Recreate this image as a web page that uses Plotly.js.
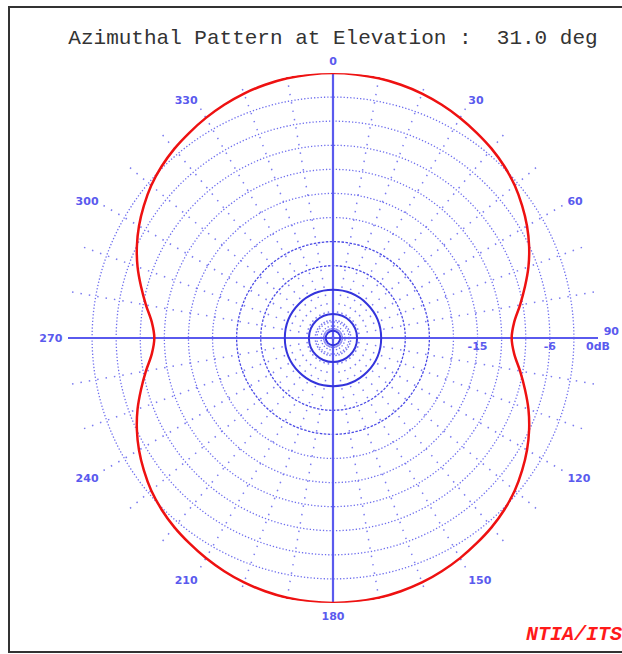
<!DOCTYPE html>
<html>
<head>
<meta charset="utf-8">
<script src="https://cdn.plot.ly/plotly-3.0.1.min.js"></script>
<style>html,body{margin:0;padding:0;background:#fff;overflow:hidden}</style>
</head>
<body>
<div id="chart" style="width:622px;height:654px"></div>
<script>
// Azimuth angles (deg, clockwise from north)
const azimuth = [0,5,10,15,20,25,30,35,40,45,50,55,60,65,70,75,80,85,90,
  95,100,105,110,115,120,125,130,135,140,145,150,155,160,165,170,175,
  180,185,190,195,200,205,210,215,220,225,230,235,240,245,250,255,260,265,270,
  275,280,285,290,295,300,305,310,315,320,325,330,335,340,345,350,355,360];
// Relative gain (dB)
const gainDb = [0,-0.05,-0.15,-0.35,-0.6,-0.95,-1.35,-1.8,-2.25,-2.8,-3.45,-4.25,-5.1,-6.05,-7.1,-8.25,-9.35,-10.35,-10.75,
  -10.35,-9.35,-8.25,-7.1,-6.05,-5.1,-4.25,-3.45,-2.8,-2.25,-1.8,-1.35,-0.95,-0.6,-0.35,-0.15,-0.05,
  0,-0.05,-0.15,-0.35,-0.6,-0.95,-1.35,-1.8,-2.25,-2.8,-3.45,-4.25,-5.1,-6.05,-7.1,-8.25,-9.35,-10.35,-10.75,
  -10.35,-9.35,-8.25,-7.1,-6.05,-5.1,-4.25,-3.45,-2.8,-2.25,-1.8,-1.35,-0.95,-0.6,-0.35,-0.15,-0.05,0];
// Tick labels
const angleTicks = [0,30,60,90,120,150,180,210,240,270,300,330];
const angleTickText = ['0','30','60','90<br> ','120','150','180','210','240','270','300','330'];
const radialLabelVals = [-15,-6,0];
const radialLabelText = ['-15','-6','0dB'];
// Ring levels (dB)
const dottedRings = [-31.5,-31,-18,-15,-12,-9,-6,-3,0];
const dashedRings = [-24,-21];
const solidRings = [-32.1,-30,-27];
const spokeAngles = [0,10,20,30,40,50,60,70,80,90,100,110,120,130,140,150,160,170,180,190,200,210,220,230,240,250,260,270,280,290,300,310,320,330,340,350];
const crossAngles = [0,90,180,270];
const rRange = [-33, 0.001];

const W = 622, H = 654, CX = 333, CY = 338, R = 265;
const dom = {x:[(CX-R)/W,(CX+R)/W], y:[1-(CY+R)/H, 1-(CY-R)/H]};
const blue = '#5a5aee';

function base(){
  return {
    domain: dom, bgcolor:'rgba(0,0,0,0)', hole:0,
    angularaxis:{rotation:90, direction:'clockwise', showline:false, showticklabels:false, ticks:'', showgrid:false},
    radialaxis:{range:rRange, showline:false, showticklabels:false, ticks:'', showgrid:false}
  };
}
const p1 = base();
p1.bgcolor = '#ffffff';
p1.angularaxis.showgrid = true; p1.angularaxis.tickmode='array'; p1.angularaxis.tickvals = spokeAngles;
p1.angularaxis.gridcolor = '#7c7cf0'; p1.angularaxis.griddash = '1.5px,7px'; p1.angularaxis.gridwidth = 1.5;
p1.radialaxis.showgrid = true; p1.radialaxis.tickmode='array'; p1.radialaxis.tickvals = dottedRings;
p1.radialaxis.gridcolor = '#6e6eee'; p1.radialaxis.griddash = '1.3px,2px'; p1.radialaxis.gridwidth = 1.3;

const p2 = base();
p2.radialaxis.showgrid = true; p2.radialaxis.tickmode='array'; p2.radialaxis.tickvals = dashedRings;
p2.radialaxis.gridcolor = '#4a4ae6'; p2.radialaxis.griddash = '2.5px,1.5px'; p2.radialaxis.gridwidth = 1.3;

const p3 = base();
p3.radialaxis.showgrid = true; p3.radialaxis.tickmode='array'; p3.radialaxis.tickvals = solidRings;
p3.radialaxis.gridcolor = '#3434dc'; p3.radialaxis.gridwidth = 2;
p3.angularaxis.showgrid = true; p3.angularaxis.tickmode='array'; p3.angularaxis.tickvals = crossAngles;
p3.angularaxis.gridcolor = blue; p3.angularaxis.gridwidth = 2.2;

const lblFont = {family:'DejaVu Sans, Verdana, sans-serif', size:11, color:blue, weight:'bold'};
const p4 = base();
p4.angularaxis.showticklabels = true; p4.angularaxis.tickmode='array';
p4.angularaxis.tickvals = angleTicks; p4.angularaxis.ticktext = angleTickText;
p4.angularaxis.ticks = 'outside'; p4.angularaxis.ticklen = 3; p4.angularaxis.tickcolor = 'rgba(0,0,0,0)';
p4.angularaxis.tickfont = lblFont;
p4.radialaxis.showticklabels = true; p4.radialaxis.tickmode='array';
p4.radialaxis.tickvals = radialLabelVals; p4.radialaxis.ticktext = radialLabelText;
p4.radialaxis.angle = 0; p4.radialaxis.side = 'clockwise'; p4.radialaxis.tickfont = lblFont;

// placeholder traces so every grid layer is drawn
function holder(sp){
  return {type:'scatterpolar', subplot:sp, mode:'markers', r:[rRange[0]], theta:[0],
    marker:{size:1, opacity:0}, hoverinfo:'skip', showlegend:false};
}
const trace = {
  type:'scatterpolar', subplot:'polar4', mode:'lines',
  r: gainDb, theta: azimuth,
  line:{color:'#ee1111', width:2.5, shape:'spline', smoothing:1},
  hoverinfo:'skip'
};

const layout = {
  width:W, height:H, margin:{l:0,r:0,t:0,b:0},
  paper_bgcolor:'#ffffff', showlegend:false,
  polar:p1, polar2:p2, polar3:p3, polar4:p4,
  title:{text:'Azimuthal Pattern at Elevation : \u00a031.0 deg',
    font:{family:'Liberation Mono, Courier New, monospace', size:21, color:'#333333'},
    xref:'paper', yref:'paper', x:333/W, xanchor:'center', y:1-37/H, yanchor:'middle'},
  annotations:[{text:'NTIA/ITS', xref:'paper', yref:'paper', x:524/W, y:1-634/H,
    xanchor:'left', yanchor:'middle', showarrow:false,
    font:{family:'Liberation Mono, Courier New, monospace', size:20, color:'#ff1a1a', weight:'bold', style:'italic'}}],
  shapes:[{type:'rect', xref:'paper', yref:'paper', x0:9/W, x1:1.1, y0:1-652/H, y1:1-7/H,
    line:{color:'#333333', width:2}, fillcolor:'rgba(0,0,0,0)', layer:'above'}]
};

Plotly.newPlot('chart', [holder('polar'), holder('polar2'), holder('polar3'), trace], layout, {displayModeBar:false, staticPlot:true});
</script>
</body>
</html>
